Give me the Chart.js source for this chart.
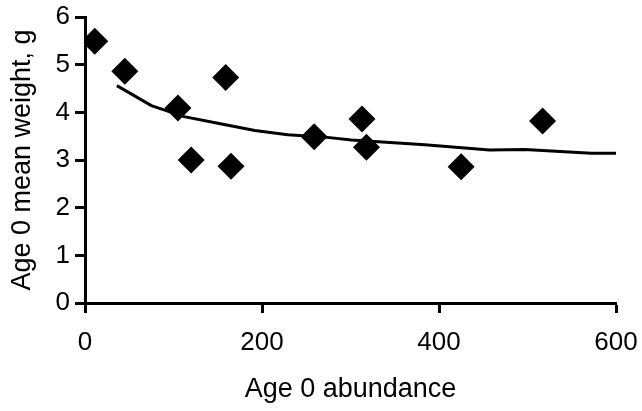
<!DOCTYPE html>
<html>
<head>
<meta charset="utf-8">
<script src="https://cdn.jsdelivr.net/npm/chart.js@4/dist/chart.umd.min.js"></script>
<style>
  html, body { margin: 0; padding: 0; background: #fff; }
  #wrap { width: 642px; height: 411px; }
</style>
</head>
<body>
<div id="wrap"><canvas id="weightChart" width="642" height="411"></canvas></div>
<script>
// Observed points: age 0 abundance vs mean weight
const abundance = [11, 45, 105, 159, 120, 165, 259, 313, 318, 425, 517];
const meanWeight = [5.49, 4.86, 4.09, 4.73, 3.00, 2.87, 3.49, 3.86, 3.27, 2.86, 3.82];

// Fitted curve
const fitX = [36, 75, 112, 150, 192, 229, 271, 301, 384, 457, 497, 572, 600];
const fitY = [4.56, 4.14, 3.91, 3.77, 3.62, 3.53, 3.48, 3.42, 3.32, 3.21, 3.22, 3.14, 3.14];

const xTicks = [0, 200, 400, 600];
const yTicks = [0, 1, 2, 3, 4, 5, 6];

const fontFamily = '"Liberation Sans", Arial, sans-serif';

const ctx = document.getElementById('weightChart').getContext('2d');
new Chart(ctx, {
    type: 'scatter',
    data: {
        datasets: [
            {
                label: 'Observed',
                data: abundance.map((x, i) => ({ x: x, y: meanWeight[i] })),
                pointStyle: 'rectRot',
                pointRadius: 13.5,
                pointHoverRadius: 13.5,
                backgroundColor: '#000',
                borderColor: '#000',
                borderWidth: 0,
                showLine: false
            },
            {
                label: 'Fit',
                data: fitX.map((x, i) => ({ x: x, y: fitY[i] })),
                showLine: true,
                borderColor: '#000',
                borderWidth: 3,
                pointRadius: 0,
                fill: false,
                tension: 0
            }
        ]
    },
    options: {
        responsive: false,
        animation: false,
        layout: {
            padding: { left: 0, right: 26, top: 17, bottom: 0 }
        },
        plugins: {
            legend: { display: false },
            tooltip: { enabled: false }
        },
        scales: {
            x: {
                type: 'linear',
                min: 0,
                max: 600,
                afterBuildTicks: axis => { axis.ticks = xTicks.map(v => ({ value: v })); },
                afterFit: axis => {
                    axis.height = 108;
                    axis.paddingLeft = 0;
                    axis.paddingRight = 0;
                },
                grid: {
                    display: true,
                    drawOnChartArea: false,
                    drawTicks: true,
                    tickLength: 10,
                    tickWidth: 3,
                    tickColor: '#000'
                },
                border: { display: true, color: '#000', width: 3 },
                ticks: {
                    color: '#000',
                    padding: 14,
                    maxRotation: 0,
                    font: { family: fontFamily, size: 26 }
                },
                title: {
                    display: true,
                    text: 'Age 0 abundance',
                    color: '#000',
                    padding: { top: 0, bottom: 5 },
                    font: { family: fontFamily, size: 27 }
                }
            },
            y: {
                type: 'linear',
                min: 0,
                max: 6,
                afterBuildTicks: axis => { axis.ticks = yTicks.map(v => ({ value: v })); },
                afterFit: axis => {
                    axis.width = 85;
                    axis.paddingTop = 0;
                    axis.paddingBottom = 0;
                },
                grid: {
                    display: true,
                    drawOnChartArea: false,
                    drawTicks: true,
                    tickLength: 10,
                    tickWidth: 3,
                    tickColor: '#000'
                },
                border: { display: true, color: '#000', width: 3 },
                ticks: {
                    color: '#000',
                    padding: 5,
                    font: { family: fontFamily, size: 26 }
                },
                title: {
                    display: true,
                    text: 'Age 0 mean weight, g',
                    color: '#000',
                    padding: { top: 6, bottom: 0 },
                    font: { family: fontFamily, size: 27 }
                }
            }
        }
    }
});
</script>
</body>
</html>
